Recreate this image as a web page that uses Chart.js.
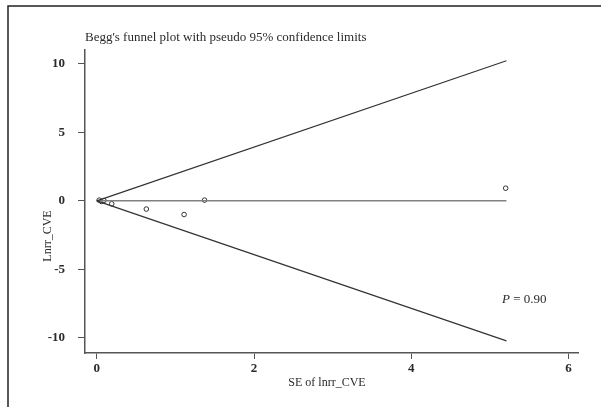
<!DOCTYPE html>
<html>
<head>
<meta charset="utf-8">
<script src="https://cdn.jsdelivr.net/npm/chart.js@4.4.1/dist/chart.umd.min.js"></script>
<style>
    html, body { margin: 0; padding: 0; background: #fff; }
    #wrap { width: 601px; height: 407px; position: relative; }
</style>
</head>
<body>
<div id="wrap"><canvas id="funnelChart" width="601" height="407"></canvas></div>
<script>
// study points: standard error vs log risk ratio
const seValues = [0.03, 0.06, 0.09, 0.19, 0.63, 1.11, 1.37, 5.2];
const lnrrValues = [0.05, -0.05, 0.02, -0.22, -0.6, -1.0, 0.05, 0.92];

// pseudo 95% limits, read at both ends
const limitSe = [0, 5.21];
const upperLimit = [0, 10.22];
const lowerLimit = [0, -10.22];
const centerLine = [0, 0];

const xTicks = [0, 2, 4, 6];
const yTicks = [-10, -5, 0, 5, 10];

const titleText = "Begg's funnel plot with pseudo 95% confidence limits";
const xTitle = "SE of lnrr_CVE";
const yTitle = "Lnrr_CVE";
const pLabel = "0.90";

const serif = "'Liberation Serif', 'DejaVu Serif', serif";
const ink = "#2a2a2a";

function toPoints(xs, ys) {
    return xs.map((x, i) => ({ x: x, y: ys[i] }));
}

const textPlugin = {
    id: "textPlugin",
    afterDraw(chart) {
        const ctx = chart.ctx;
        const area = chart.chartArea;
        ctx.save();

        // outer frame (top and left edges only are visible)
        ctx.strokeStyle = "#222";
        ctx.lineWidth = 1.5;
        ctx.beginPath();
        ctx.moveTo(8, 407);
        ctx.lineTo(8, 6);
        ctx.lineTo(601, 6);
        ctx.stroke();

        ctx.fillStyle = ink;
        ctx.font = "13px " + serif;
        ctx.textBaseline = "alphabetic";
        ctx.textAlign = "left";
        ctx.fillText(titleText, area.left, 41);

        ctx.font = "12px " + serif;
        ctx.textAlign = "center";
        ctx.fillText(xTitle, 327, 386);

        ctx.save();
        ctx.translate(51, 236);
        ctx.rotate(-Math.PI / 2);
        ctx.fillText(yTitle, 0, 0);
        ctx.restore();

        ctx.textAlign = "left";
        ctx.font = "italic 13px " + serif;
        ctx.fillText("P", 502, 303);
        const pw = ctx.measureText("P").width;
        ctx.font = "13px " + serif;
        ctx.fillText(" = " + pLabel, 502 + pw, 303);

        ctx.restore();
    }
};

const lineStyle = {
    showLine: true,
    pointRadius: 0,
    borderColor: "#333",
    borderWidth: 1.2,
    fill: false
};

new Chart(document.getElementById("funnelChart").getContext("2d"), {
    type: "scatter",
    data: {
        datasets: [
            Object.assign({ label: "upper", data: toPoints(limitSe, upperLimit) }, lineStyle),
            Object.assign({ label: "lower", data: toPoints(limitSe, lowerLimit) }, lineStyle),
            Object.assign({ label: "center", data: toPoints(limitSe, centerLine) }, lineStyle, { borderColor: "#808080", borderWidth: 1.6 }),
            {
                label: "studies",
                data: toPoints(seValues, lnrrValues),
                pointRadius: 2.3,
                pointBackgroundColor: "#fff",
                pointBorderColor: "#333",
                pointBorderWidth: 1,
                showLine: false
            }
        ]
    },
    options: {
        responsive: false,
        animation: false,
        clip: false,
        layout: { padding: { top: 50, right: 23, left: 0, bottom: 0 } },
        plugins: {
            legend: { display: false },
            tooltip: { enabled: false },
            title: { display: false }
        },
        scales: {
            x: {
                type: "linear",
                min: -0.15,
                max: 6.12,
                afterBuildTicks: axis => { axis.ticks = xTicks.map(v => ({ value: v })); },
                afterFit: axis => { axis.height = 54; },
                grid: { drawOnChartArea: false, drawTicks: true, tickLength: 6, color: "#555" },
                border: { display: true, color: "#555", width: 1.5 },
                ticks: {
                    color: ink,
                    padding: 2,
                    maxRotation: 0,
                    font: { family: serif, size: 13, weight: "bold" }
                }
            },
            y: {
                type: "linear",
                min: -11.1,
                max: 11,
                afterBuildTicks: axis => { axis.ticks = yTicks.map(v => ({ value: v })); },
                afterFit: axis => { axis.width = 85; },
                grid: { drawOnChartArea: false, drawTicks: true, tickLength: 7, color: "#555" },
                border: { display: true, color: "#555", width: 1.5 },
                ticks: {
                    color: ink,
                    padding: 13,
                    font: { family: serif, size: 13, weight: "bold" }
                }
            }
        }
    },
    plugins: [textPlugin]
});
</script>
</body>
</html>
